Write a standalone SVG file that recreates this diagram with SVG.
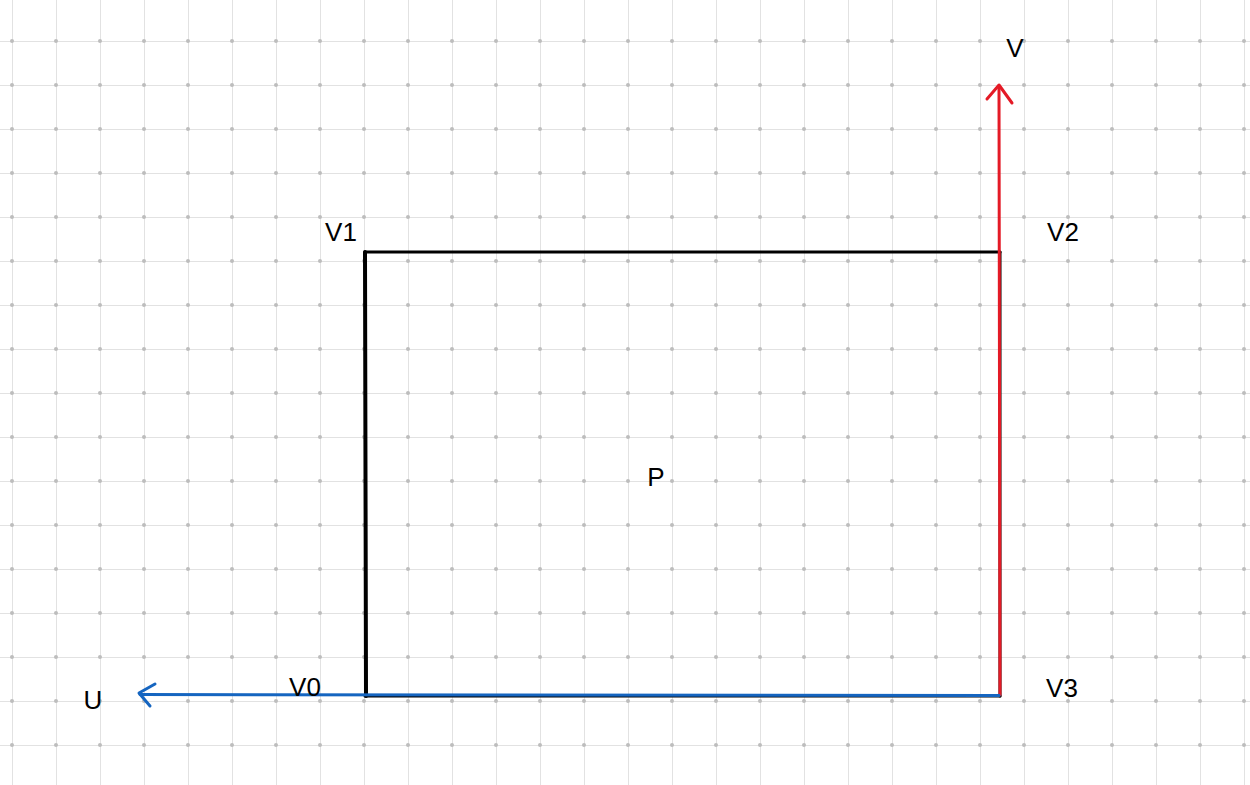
<svg xmlns="http://www.w3.org/2000/svg" width="1250" height="785" viewBox="0 0 1250 785">
<defs>
<style>
.dot{fill:#bdbdbd}
.lbl{font-family:"Liberation Sans",sans-serif;font-size:26px;fill:#000000}
.edge{fill:none;stroke-linecap:round;stroke-linejoin:round}
</style>
<pattern id="dots" x="12" y="41" width="44" height="44" patternUnits="userSpaceOnUse">
<circle cx="0" cy="0" r="2" class="dot"/>
<circle cx="44" cy="0" r="2" class="dot"/>
<circle cx="0" cy="44" r="2" class="dot"/>
<circle cx="44" cy="44" r="2" class="dot"/>
</pattern>
<pattern id="gridp" x="12" y="41" width="44" height="44" patternUnits="userSpaceOnUse">
<path d="M0 0V44M0 0H44" stroke="#e2e2e2" stroke-width="2" fill="none"/>
</pattern>
</defs>
<rect width="1250" height="785" fill="#ffffff"/>
<rect width="1250" height="785" fill="url(#gridp)"/>
<rect width="1250" height="785" fill="url(#dots)"/>
<g id="shape-P">
<path class="edge" d="M365 252 L1000 252" stroke="#000" stroke-width="3.2"/>
<path class="edge" d="M365 252 L366 696" stroke="#000" stroke-width="4"/>
<path class="edge" d="M365 696 L1000 696" stroke="#000" stroke-width="3"/>
<path class="edge" d="M1000 252 L1000 696" stroke="#000" stroke-width="3"/>
</g>
<g id="connectors">
<g id="axis-v">
<path class="edge" d="M1000 695 L999 86" stroke="#e41a26" stroke-width="3"/>
<path class="edge" d="M987 99 L999 85 L1012 103" stroke="#e41a26" stroke-width="3"/>
</g>
<g id="axis-u">
<path class="edge" d="M999 695.5 L140 694.5" stroke="#1565c0" stroke-width="3"/>
<path class="edge" d="M155 684 L139 693 L150 706" stroke="#1565c0" stroke-width="3"/>
</g>
</g>
<g id="labels">
<text class="lbl" x="1015" y="57" text-anchor="middle">V</text>
<text class="lbl" x="341" y="241" text-anchor="middle">V1</text>
<text class="lbl" x="1063" y="241" text-anchor="middle">V2</text>
<text class="lbl" x="305" y="696" text-anchor="middle">V0</text>
<text class="lbl" x="1062" y="697" text-anchor="middle">V3</text>
<text class="lbl" x="93" y="709" text-anchor="middle">U</text>
<text class="lbl" x="656" y="486" text-anchor="middle">P</text>
</g>
</svg>
